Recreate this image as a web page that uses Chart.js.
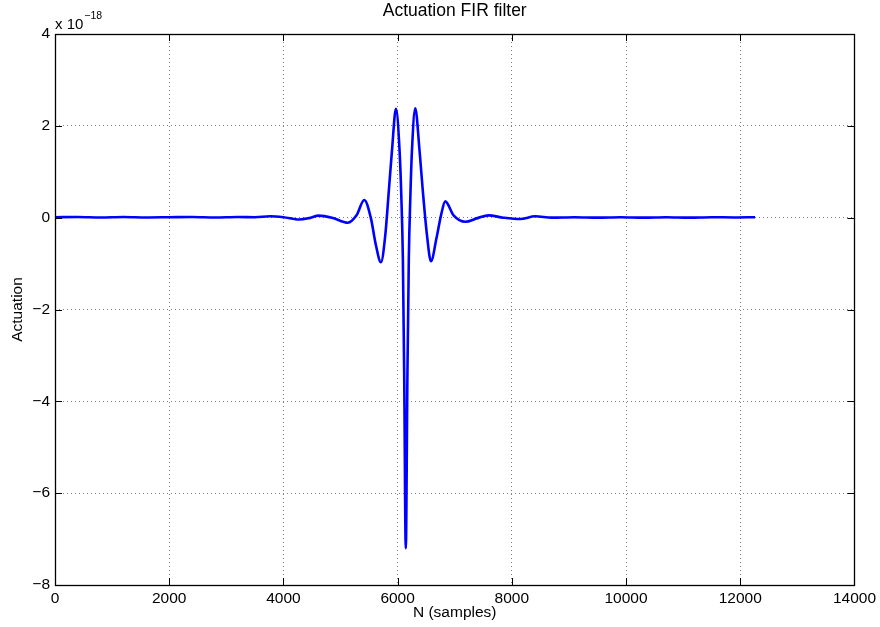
<!DOCTYPE html>
<html><head><meta charset="utf-8">
<script src="https://cdn.jsdelivr.net/npm/chart.js@4/dist/chart.umd.min.js"></script>
<style>html,body{margin:0;padding:0;background:#fff}</style>
</head><body>
<canvas id="c" width="880" height="627"></canvas>
<script>
// Sample index (N) and actuation value (in units of 1e-18)
const samples = [0, 400, 800, 1200, 1600, 2000, 2400, 2800, 3200, 3500, 3770, 4000, 4280, 4450, 4620, 4850, 5130, 5280, 5416, 5530, 5620, 5708, 5784, 5850, 5901, 5971, 6034, 6064, 6092, 6115, 6143, 6172, 6196, 6224, 6251, 6309, 6384, 6440, 6514, 6584, 6680, 6760, 6834, 6980, 7184, 7400, 7592, 7850, 8146, 8409, 8700, 9100, 9500, 9900, 10300, 10700, 11100, 11500, 11900, 12259];
const actuation = [0.01, 0.015, 0.005, 0.015, 0.005, 0.01, 0.015, 0.005, 0.015, 0.01, 0.03, 0.01, -0.04, -0.01, 0.045, 0.0, -0.11, 0.05, 0.385, 0.0, -0.6, -0.97, -0.38, 0.65, 1.46, 2.37, 1.46, 0.5, -0.9, -3.4, -7.2, -3.4, -0.9, 0.5, 1.46, 2.38, 1.46, 0.6, -0.38, -0.95, -0.45, 0.05, 0.355, 0.05, -0.09, -0.01, 0.05, 0.0, -0.03, 0.03, 0.0, 0.01, 0.0, 0.01, 0.0, 0.01, 0.0, 0.01, 0.005, 0.01];
const xTickValues = [0, 2000, 4000, 6000, 8000, 10000, 12000, 14000];
const yTickValues = [-8, -6, -4, -2, 0, 2, 4];
const titleText = "Actuation FIR filter";
const xLabel = "N (samples)";
const yLabel = "Actuation";
const exponentText = "\u221218";

const FONT = '"Liberation Sans", Arial, Helvetica, sans-serif';

const points = samples.map((n, i) => ({x: n, y: actuation[i]}));

const decor = {
  id: 'decor',
  afterDraw(chart) {
    const {ctx, chartArea: a, scales} = chart;
    const xs = scales.x, ys = scales.y;
    ctx.save();
    // inward ticks
    ctx.strokeStyle = '#000';
    ctx.lineWidth = 1;
    ctx.beginPath();
    xTickValues.forEach(v => {
      const px = Math.round(xs.getPixelForValue(v)) + 0.5;
      ctx.moveTo(px, a.bottom); ctx.lineTo(px, a.bottom - 7);
      ctx.moveTo(px, a.top); ctx.lineTo(px, a.top + 7);
    });
    yTickValues.forEach(v => {
      const py = Math.round(ys.getPixelForValue(v)) + 0.5;
      ctx.moveTo(a.left, py); ctx.lineTo(a.left + 7, py);
      ctx.moveTo(a.right, py); ctx.lineTo(a.right - 7, py);
    });
    ctx.stroke();
    // box
    ctx.lineWidth = 1.3;
    ctx.strokeRect(Math.round(a.left) + 0.5, Math.round(a.top) + 0.5, Math.round(a.right - a.left), Math.round(a.bottom - a.top));
    // titles
    ctx.fillStyle = '#000';
    const cx = (a.left + a.right) / 2;
    ctx.textAlign = 'center'; ctx.textBaseline = 'middle';
    ctx.font = '17.5px ' + FONT;
    ctx.fillText(titleText, cx, 11);
    ctx.font = '15.5px ' + FONT;
    ctx.fillText(xLabel, cx, 613);
    ctx.save();
    ctx.translate(18, (a.top + a.bottom) / 2);
    ctx.rotate(-Math.PI / 2);
    ctx.fillText(yLabel, 0, 0);
    ctx.restore();
    // exponent
    ctx.textAlign = 'left'; ctx.textBaseline = 'alphabetic';
    ctx.font = '15px ' + FONT;
    ctx.fillText('x 10', a.left, 29);
    const w = ctx.measureText('x 10').width;
    ctx.font = '10.5px ' + FONT;
    ctx.fillText(exponentText, a.left + w + 1, 19);
    ctx.restore();
  }
};

const tickFmt = v => String(v).replace('-', '\u2212');
const gridOpts = {color: 'rgba(0,0,0,0.5)', lineWidth: 1, drawTicks: false};
const borderOpts = {display: false, dash: [1, 3]};

new Chart(document.getElementById('c'), {
  type: 'line',
  data: {
    datasets: [{
      data: points,
      borderColor: '#0000ff',
      borderWidth: 2.6,
      pointRadius: 0,
      cubicInterpolationMode: 'monotone',
      fill: false
    }]
  },
  options: {
    responsive: false,
    devicePixelRatio: 1,
    animation: false,
    parsing: false,
    layout: {padding: {left: 0, right: 25, top: 34, bottom: 0}},
    plugins: {legend: {display: false}, tooltip: {enabled: false}, title: {display: false}},
    scales: {
      x: {
        type: 'linear', min: 0, max: 14000,
        afterBuildTicks: s => { s.ticks = xTickValues.map(v => ({value: v})); },
        afterFit: s => { s.height = 42; },
        border: borderOpts,
        grid: gridOpts,
        ticks: {color: '#000', font: {family: FONT, size: 15.5}, padding: 4, maxRotation: 0, callback: tickFmt}
      },
      y: {
        type: 'linear', min: -8, max: 4,
        afterBuildTicks: s => { s.ticks = yTickValues.map(v => ({value: v})); },
        afterFit: s => { s.width = 55; },
        border: borderOpts,
        grid: gridOpts,
        ticks: {color: '#000', font: {family: FONT, size: 15.5}, padding: 5, callback: tickFmt}
      }
    }
  },
  plugins: [decor]
});
</script>
</body></html>
